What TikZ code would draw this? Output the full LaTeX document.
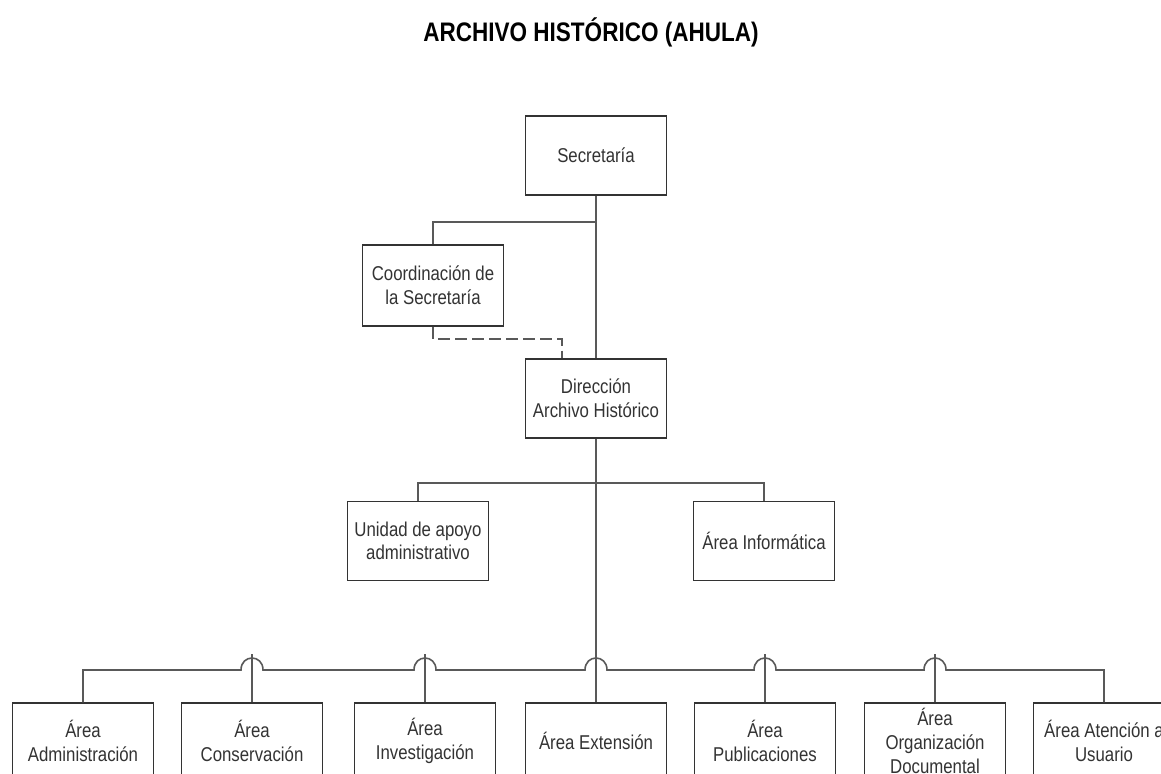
\documentclass[tikz,border=0pt]{standalone}
\usepackage{fontspec}
\setmainfont{Liberation Sans}[FakeStretch=0.84]
\begin{document}
\begin{tikzpicture}[x=0.5pt, y=-0.5pt,
  box/.style={draw=black!80, line width=0.7pt, fill=white, minimum width=70.5pt, minimum height=39.5pt,
    align=center, inner sep=1pt, text=black!80, font=\fontsize{10}{11.8}\selectfont},
  link/.style={draw=black!65, line width=0.8pt},
  dashlink/.style={link, dash pattern=on 6pt off 2.5pt}]
\useasboundingbox (0,0) rectangle (1161,773);
\clip (0,0) rectangle (1161,773);
\node[font=\fontsize{13.4}{16}\selectfont\bfseries] (title) at (591,32) {ARCHIVO HISTÓRICO (AHULA)};
\node[box] (sec) at (596,155.5) {Secretaría};
\node[box, minimum height=40.5pt] (coo) at (433,285.5) {Coordinación de\\la Secretaría};
\node[box] (dir) at (596,398.5) {Dirección\\Archivo Histórico};
\node[box] (uni) at (418,541) {Unidad de apoyo\\administrativo};
\node[box] (inf) at (764,541) {Área Informática};
\node[box, minimum height=38pt] (adm) at (83,741) {Área\\Administración};
\node[box, minimum height=38pt] (con) at (252,741) {Área\\Conservación};
\node[box, minimum height=38pt] (inv) at (425,741) {Área\\Investigación};
\node[box, minimum height=38pt] (ext) at (596,741) {Área Extensión};
\node[box, minimum height=38pt] (pub) at (765,741) {Área\\Publicaciones};
\node[box, minimum height=38pt] (org) at (935,741) {Área\\Organización\\Documental};
\node[box, minimum height=38pt] (ate) at (1104,741) {Área Atención a\\Usuario};
\coordinate (split1) at (596,222);
\coordinate (split2) at (596,483);
\coordinate (bus) at (596,670);
\draw[link] (sec.south) -- (dir.north);
\draw[link] (coo.north) |- (split1);
\draw[dashlink] (coo.south) -- ++(0,12) -| ([xshift=-17pt]dir.north);
\draw[link] (uni.north) |- (split2) -| (inf.north);
\draw[link] (dir.south) -- (ext.north);
\foreach \n in {con,inv,ext,pub,org}
  \coordinate (h-\n) at (\n.north |- bus);
\draw[link] (adm.north) |- ([xshift=-5.5pt]h-con)
  foreach \n in {con,inv,ext,pub,org} {
    -- ([xshift=-5.5pt]h-\n) .. controls +(0,-16) and +(0,-16) .. ([xshift=5.5pt]h-\n)
  } -| (ate.north);
\foreach \n in {con,inv,pub,org}
  \draw[link] ([yshift=8pt]h-\n) -- (\n.north);
\end{tikzpicture}
\end{document}
